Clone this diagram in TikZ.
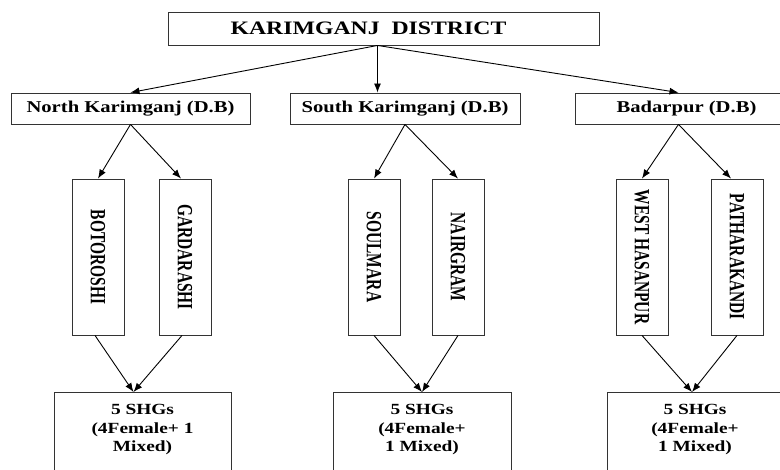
\documentclass[tikz,border=0pt]{standalone}
\usepackage{fontspec}
\setmainfont{Liberation Serif}
\usepackage{graphicx}
\usetikzlibrary{arrows.meta}

\newcommand{\wide}[1]{\scalebox{1.25}[1]{#1}}
\newcommand{\vtext}[1]{\rotatebox{-90}{\scalebox{1}[1.4]{#1}}}

\tikzset{
  box/.style={draw=black!80, line width=0.9pt, inner sep=0pt},
  block/.style={box, minimum height=31pt, font=\bfseries\fontsize{16.5}{19}\selectfont},
  vbox/.style={box, minimum width=52pt, minimum height=156pt, font=\bfseries\fontsize{15.5}{18}\selectfont},
  shg/.style={box, anchor=north, inner sep=9pt, text depth=90pt, font=\bfseries\fontsize{15.5}{18.6}\selectfont},
  link/.style={->, line width=0.9pt},
}

\begin{document}
\begin{tikzpicture}[x=1pt,y=1pt,>={Latex[length=9pt,width=7pt]}]
  \useasboundingbox (0,0) rectangle (780,-470);

  % District
  \node[box, minimum width=431pt, minimum height=33pt, font=\bfseries\fontsize{19}{22}\selectfont] (district) at (383.5,-28.5) {\wide{KARIMGANJ\ \ DISTRICT}\hspace*{30pt}};

  % Blocks
  \node[block, minimum width=239pt] (north) at (130.5,-108.5) {\wide{North Karimganj (D.B)}};
  \node[block, minimum width=230pt] (south) at (405,-108.5) {\wide{South Karimganj (D.B)}};
  \node[block, minimum width=223pt] (badar) at (686.5,-108.5) {\wide{Badarpur (D.B)}};

  % Villages
  \node[vbox] (botoroshi) at (98,-257) {\vtext{BOTOROSHI}};
  \node[vbox] (gardarashi) at (185,-257) {\vtext{GARDARASHI}};
  \node[vbox] (soulmara) at (374,-257) {\vtext{SOULMARA}};
  \node[vbox] (nairgram) at (458,-257) {\vtext{NAIRGRAM}};
  \node[vbox] (hasanpur) at (642,-257) {\vtext{WEST HASANPUR}};
  \node[vbox] (patharakandi) at (737,-257) {\vtext{PATHARAKANDI}};

  % SHGs
  \node[shg, minimum width=177pt] (shg1) at (142.5,-392) {\wide{\begin{tabular}{@{}c@{}}5 SHGs\\(4Female+ 1\\Mixed)\end{tabular}}};
  \node[shg, minimum width=178pt] (shg2) at (422,-392) {\wide{\begin{tabular}{@{}c@{}}5 SHGs\\(4Female+\\1 Mixed)\end{tabular}}};
  \node[shg, minimum width=176pt] (shg3) at (695,-392) {\wide{\begin{tabular}{@{}c@{}}5 SHGs\\(4Female+\\1 Mixed)\end{tabular}}};

  % District to blocks
  \draw[link] ([xshift=-6pt]district.south) -- (north.north);
  \draw[link] ([xshift=-6pt]district.south) -- ([xshift=-6pt]district.south |- south.north);
  \draw[link] ([xshift=-6pt]district.south) -- ([xshift=-8pt]badar.north);

  % Blocks to villages
  \draw[link] (north.south) -- (botoroshi.north);
  \draw[link] (north.south) -- ([xshift=-4pt]gardarashi.north);
  \draw[link] (south.south) -- (soulmara.north);
  \draw[link] (south.south) -- (nairgram.north);
  \draw[link] ([xshift=-8pt]badar.south) -- (hasanpur.north);
  \draw[link] ([xshift=-8pt]badar.south) -- ([xshift=-6pt]patharakandi.north);

  % Villages to SHGs
  \draw[link] ([xshift=-3pt]botoroshi.south) -- ([xshift=-9pt]shg1.north);
  \draw[link] ([xshift=-3pt]gardarashi.south) -- ([xshift=-9pt]shg1.north);
  \draw[link] (soulmara.south) -- (shg2.north);
  \draw[link] (nairgram.south) -- (shg2.north);
  \draw[link] (hasanpur.south) -- ([xshift=-3pt]shg3.north);
  \draw[link] (patharakandi.south) -- ([xshift=-3pt]shg3.north);
\end{tikzpicture}
\end{document}
